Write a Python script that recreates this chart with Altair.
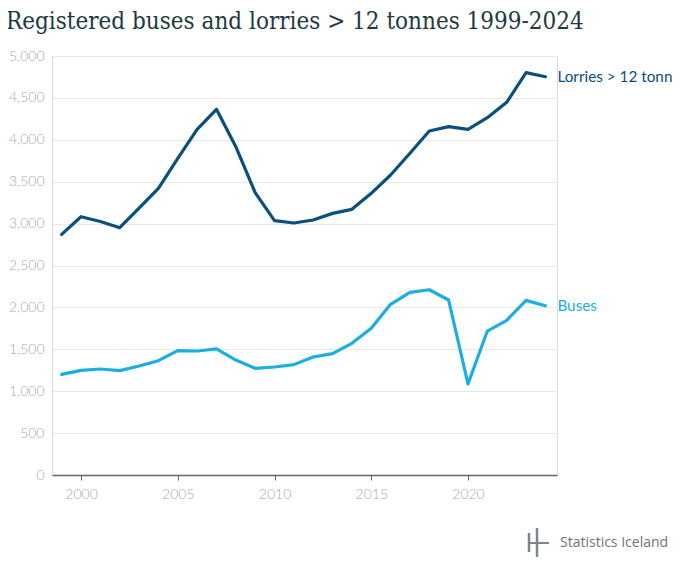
import altair as alt
import pandas as pd

years = list(range(1999, 2025))
lorries = [2872, 3082, 3025, 2951, 3186, 3421, 3779, 4125, 4364, 3918, 3369, 3035, 3007,
           3043, 3122, 3170, 3361, 3580, 3839, 4105, 4157, 4125, 4264, 4447, 4801, 4753]
buses = [1201, 1249, 1265, 1245, 1300, 1364, 1484, 1480, 1504, 1372, 1273, 1289, 1317,
         1408, 1448, 1571, 1750, 2037, 2180, 2211, 2088, 1086, 1718, 1846, 2084, 2020]
series_names = ["Lorries > 12 tonnes", "Buses"]
line_colors = ["#0b4f7c", "#1aaee3"]
label_colors = ["#1b4f78", "#1d84bf"]
x_ticks = [2000, 2005, 2010, 2015, 2020]
y_ticks = list(range(0, 5001, 500))

rows = []
for y, l, b in zip(years, lorries, buses):
    rows.append({"year": y, "value": l, "series": series_names[0]})
    rows.append({"year": y, "value": b, "series": series_names[1]})
df = pd.DataFrame(rows)
last = df[df["year"] == years[-1]]

color_scale = alt.Scale(domain=series_names, range=line_colors)
label_scale = alt.Scale(domain=series_names, range=label_colors)

x_enc = alt.X("year:Q", scale=alt.Scale(domain=[1998.5, 2024.6], nice=False, zero=False),
              axis=alt.Axis(values=x_ticks, format="d", title=None, grid=False,
                            domainColor="#666666", tickColor="#666666", tickSize=5,
                            labelColor="#aaaaaa", labelFont="Lato", labelFontSize=14,
                            labelFontWeight=300, labelPadding=7, domainWidth=1.5))
y_enc = alt.Y("value:Q", scale=alt.Scale(domain=[0, 5000], nice=False),
              axis=alt.Axis(values=y_ticks, format=",.0f", title=None, grid=True,
                            gridColor="#e8e8e8", domain=False, ticks=False,
                            labelColor="#aaaaaa", labelFont="Lato", labelFontSize=14,
                            labelFontWeight=300, labelPadding=8))

lines = alt.Chart(df).mark_line(strokeWidth=3.2, strokeJoin="round", strokeCap="round").encode(
    x=x_enc, y=y_enc,
    color=alt.Color("series:N", scale=color_scale, legend=None),
)

labels = alt.Chart(last).mark_text(align="left", baseline="middle", dx=12, fontSize=15.3,
                                   font="Lato").encode(
    x="year:Q", y="value:Q", text="series:N",
    color=alt.Color("series:N", scale=label_scale, legend=None),
)

foot = pd.DataFrame({"t": ["Statistics Iceland"]})
footer = alt.Chart(foot).mark_text(align="left", baseline="middle", fontSize=14,
                                   font="Open Sans", color="#6b757b").encode(
    x=alt.value(508), y=alt.value(487), text="t:N")

logo_v1 = alt.Chart(foot).mark_rule(color="#7c878d", strokeWidth=2.5).encode(
    x=alt.value(477), y=alt.value(477), y2=alt.value(496))
logo_v2 = alt.Chart(foot).mark_rule(color="#7c878d", strokeWidth=2.5).encode(
    x=alt.value(485), y=alt.value(472), y2=alt.value(501))
logo_h = alt.Chart(foot).mark_rule(color="#7c878d", strokeWidth=2).encode(
    x=alt.value(476), x2=alt.value(497), y=alt.value(487))

chart = alt.layer(lines, labels, footer, logo_v1, logo_v2, logo_h).properties(
    width=505, height=419,
    autosize=alt.AutoSizeParams(type="none"),
    padding={"left": 44, "top": 48, "right": 115, "bottom": 88},
    title=alt.TitleParams("Registered buses and lorries > 12 tonnes 1999-2024",
                          anchor="start", frame="group", dx=-46,
                          font="'DejaVu Serif Condensed', 'DejaVu Serif'",
                          fontSize=24, fontWeight="normal", color="#1e3a40",
                          baseline="alphabetic", offset=-4),
).configure_view(strokeWidth=0, stroke="transparent").configure(background="white")

chart.save("out.html", embed_options={"renderer": "svg", "actions": False})
